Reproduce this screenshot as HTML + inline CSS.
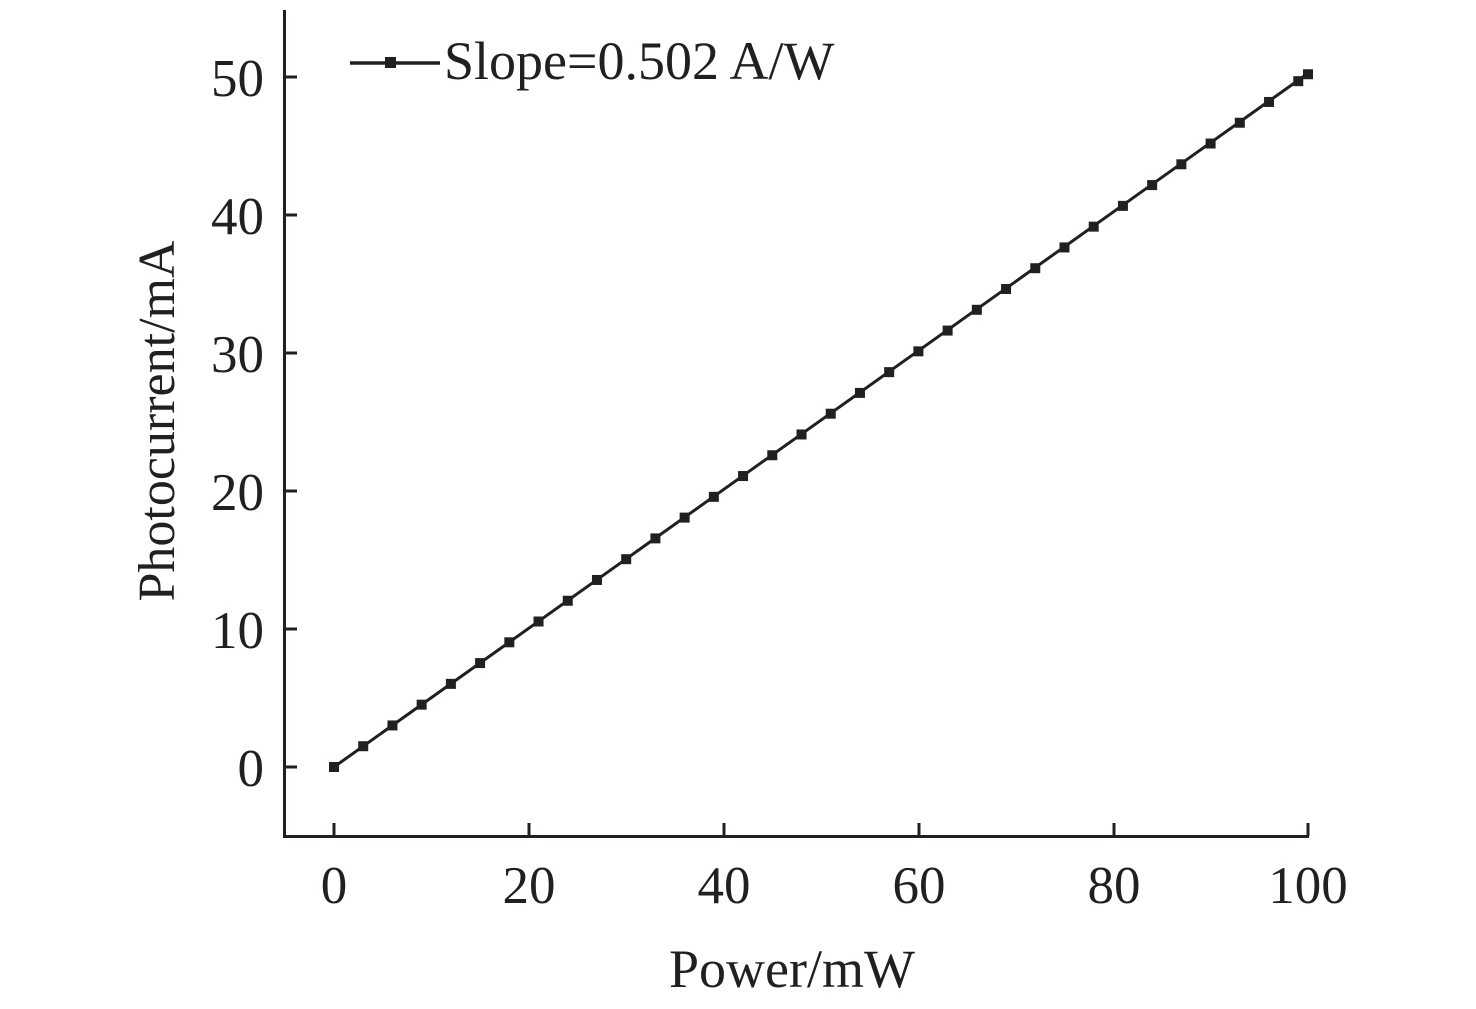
<!DOCTYPE html>
<html><head><style>html,body{margin:0;padding:0;background:#fff;}</style></head>
<body>
<svg id="s" width="1476" height="1004" xmlns="http://www.w3.org/2000/svg" font-family="Liberation Serif, serif" fill="#231f20">
<g stroke="#231f20" stroke-width="3" fill="none">
<line x1="284.5" y1="10" x2="284.5" y2="837.5"/>
<line x1="283" y1="836.5" x2="1309" y2="836.5"/>
<line x1="284" y1="767" x2="297" y2="767"/>
<line x1="284" y1="629" x2="297" y2="629"/>
<line x1="284" y1="491" x2="297" y2="491"/>
<line x1="284" y1="353" x2="297" y2="353"/>
<line x1="284" y1="215" x2="297" y2="215"/>
<line x1="284" y1="77" x2="297" y2="77"/>
<line x1="334" y1="836" x2="334" y2="823"/>
<line x1="529" y1="836" x2="529" y2="823"/>
<line x1="724" y1="836" x2="724" y2="823"/>
<line x1="919" y1="836" x2="919" y2="823"/>
<line x1="1114" y1="836" x2="1114" y2="823"/>
<line x1="1308" y1="836" x2="1308" y2="823"/>
<line x1="334" y1="767" x2="1307" y2="74" stroke-width="3"/>
<line x1="350" y1="63" x2="440" y2="63" stroke-width="3.5"/>
</g>
<rect x="385" y="57" width="11" height="11"/>
<g id="m"></g>
<g font-size="53" text-anchor="end">
<text x="264" y="786">0</text>
<text x="264" y="648">10</text>
<text x="264" y="510">20</text>
<text x="264" y="372">30</text>
<text x="264" y="234">40</text>
<text x="264" y="96">50</text>
</g>
<g font-size="53" text-anchor="middle">
<text x="334" y="903">0</text>
<text x="529" y="903">20</text>
<text x="724" y="903">40</text>
<text x="919" y="903">60</text>
<text x="1114" y="903">80</text>
<text x="1308" y="903">100</text>
<text x="792" y="987" font-size="54">Power/mW</text>
<text transform="translate(174,421) rotate(-90)" font-size="52">Photocurrent/mA</text>
</g>
<text x="444" y="79" font-size="54">Slope=0.502 A/W</text>
</svg>
<script>
var g=document.getElementById('m'),h='';
var xs=[];for(var p=0;p<100;p+=3)xs.push(p);xs.push(100);
xs.forEach(function(p){var x=334+p*9.74,y=767-p*0.502*13.8;
h+='<rect x="'+(x-5)+'" y="'+(y-5)+'" width="10" height="10"/>';});
g.innerHTML=h;
</script>
</body></html>
